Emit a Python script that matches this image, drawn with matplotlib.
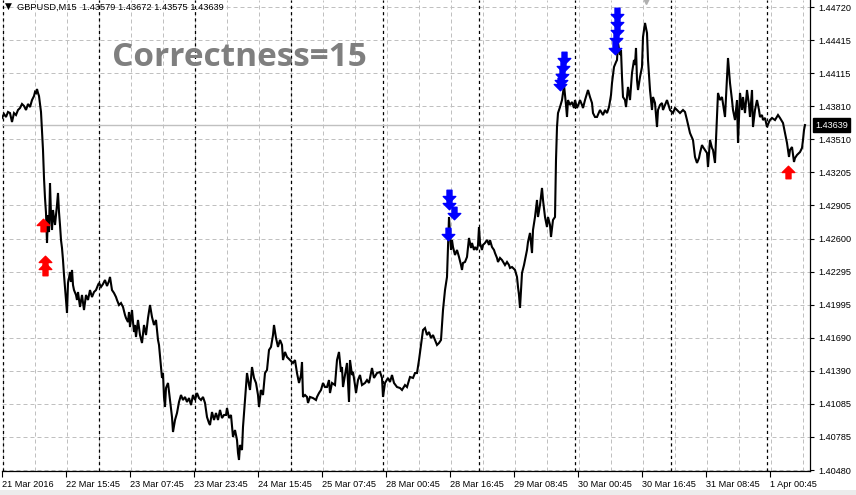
import matplotlib
matplotlib.use("Agg")
import matplotlib.pyplot as plt
import matplotlib.transforms as mtransforms
from matplotlib.path import Path
import numpy as np

# ---------------- data ----------------
symbol_header = "GBPUSD,M15  1.43579 1.43672 1.43575 1.43639"
last_price = 1.43639
title_text = "Correctness=15"

bars = [0, 2, 4, 6, 8, 10, 12, 14, 16, 18, 20, 22, 24, 26, 28, 30, 32, 33, 34, 35, 36, 37, 38, 39, 40,
        41, 42, 43, 44, 45, 46, 47, 48, 49, 50, 51, 52, 53, 54, 55, 56, 57, 58, 59, 60, 61, 62, 63, 64,
        65, 66, 67, 68, 69, 70, 71, 72, 74, 75, 76, 78, 80, 82, 84, 86, 88, 90, 92, 94, 96, 97, 99, 101,
        103, 105, 107, 108, 110, 112, 114, 115, 117, 119, 121, 123, 124, 126, 127, 128, 129, 130, 131,
        132, 133, 134, 136, 138, 140, 142, 144, 146, 148, 150, 152, 154, 156, 157, 159, 160, 161, 162,
        163, 164, 166, 168, 170, 171, 173, 175, 177, 179, 181, 183, 185, 187, 189, 191, 193, 195, 197,
        199, 201, 203, 205, 207, 208, 210, 212, 214, 216, 218, 220, 222, 224, 225, 227, 229, 231, 233,
        235, 236, 237, 238, 240, 241, 243, 245, 247, 248, 250, 252, 254, 256, 257, 259, 261, 263, 265,
        267, 269, 271, 272, 274, 276, 278, 280, 281, 283, 285, 288, 291, 293, 295, 297, 299, 300, 301,
        303, 305, 306, 308, 311, 314, 315, 317, 319, 321, 323, 325, 327, 328, 330, 333, 335, 337, 339,
        340, 341, 343, 345, 347, 348, 350, 351, 353, 354, 356, 358, 360, 363, 365, 367, 370, 372, 375,
        378, 380, 381, 383, 386, 388, 390, 392, 395, 398, 400, 403, 405, 408, 411, 413, 415, 417, 419,
        421, 423, 425, 427, 429, 431, 433, 435, 437, 439, 441, 442, 443, 445, 446, 447, 449, 450, 451,
        453, 455, 457, 459, 460, 461, 463, 465, 467, 469, 470, 472, 473, 475, 476, 477, 478, 480, 481,
        483, 485, 487, 488, 490, 492, 493, 495, 496, 498, 500, 503, 505, 507, 508, 510, 513, 515, 516,
        517, 518, 519, 520, 522, 523, 525, 526, 528, 530, 531, 533, 535, 536, 538, 540, 541, 543, 545,
        546, 548, 549, 551, 553, 554, 555, 556, 558, 560, 561, 562, 564, 565, 566, 568, 570, 572, 573,
        575, 577, 578, 580, 581, 583, 586, 588, 590, 591, 593, 595, 598, 601, 603, 605, 607, 609, 610,
        612, 614, 615, 616, 618, 619, 620, 621, 623, 624, 626, 628, 630, 632, 633, 634, 635, 636, 638,
        640, 641, 643, 644, 645, 646, 648, 650, 651, 653, 655, 656, 658, 660, 661, 663, 665, 668, 671,
        673, 675, 678, 681, 683, 685, 688, 691, 693, 695, 697, 698, 700, 701, 703, 705, 706, 708, 710,
        711, 713, 715, 716, 718, 720, 722, 723, 725, 726, 727, 728, 730, 731, 733, 735, 736, 738, 740,
        741, 743, 745, 747, 748, 750, 751, 753, 755, 757, 758, 760, 761, 763, 765, 767, 768, 770, 773,
        776, 778, 781, 783, 785, 786, 787, 788, 790, 792, 793, 795, 797, 798, 800, 801, 802, 803]

close = [1.43704, 1.43740, 1.43713, 1.43759, 1.43749, 1.43667, 1.43749, 1.43731, 1.43777, 1.43795,
         1.43832, 1.43814, 1.43777, 1.43832, 1.43804, 1.43868, 1.43905, 1.43942, 1.43933, 1.43969,
         1.43933, 1.43905, 1.43832, 1.43759, 1.43594, 1.43411, 1.43154, 1.42971, 1.42834, 1.42559,
         1.42815, 1.42659, 1.43108, 1.42815, 1.42678, 1.42861, 1.42788, 1.42724, 1.42815, 1.42907,
         1.43017, 1.42843, 1.42724, 1.42586, 1.42513, 1.42403, 1.42266, 1.42156, 1.42037, 1.41918,
         1.42193, 1.42239, 1.42293, 1.42202, 1.42312, 1.42174, 1.42128, 1.42083, 1.42037, 1.42110,
         1.41973, 1.42083, 1.41945, 1.42083, 1.42037, 1.42128, 1.42064, 1.42110, 1.42128, 1.42174,
         1.42193, 1.42156, 1.42183, 1.42220, 1.42165, 1.42211, 1.42248, 1.42128, 1.42101, 1.42064,
         1.42037, 1.41991, 1.42009, 1.41973, 1.41900, 1.41872, 1.41835, 1.41927, 1.41789, 1.41872,
         1.41945, 1.41835, 1.41744, 1.41808, 1.41698, 1.41854, 1.41716, 1.41643, 1.41808, 1.41716,
         1.41872, 1.41991, 1.41881, 1.41808, 1.41854, 1.41671, 1.41625, 1.41423, 1.41323, 1.41368,
         1.41149, 1.41057, 1.41231, 1.41277, 1.41121, 1.40965, 1.40828, 1.40938, 1.41002, 1.41103,
         1.41167, 1.41121, 1.41149, 1.41103, 1.41139, 1.41075, 1.41167, 1.41121, 1.41185, 1.41139,
         1.41121, 1.41149, 1.41094, 1.40965, 1.40910, 1.40892, 1.41011, 1.40938, 1.41002, 1.40938,
         1.41030, 1.40956, 1.40984, 1.40984, 1.41048, 1.40956, 1.40984, 1.40782, 1.40846, 1.40755,
         1.40636, 1.40572, 1.40709, 1.40663, 1.40874, 1.41121, 1.41368, 1.41258, 1.41213, 1.41423,
         1.41323, 1.41277, 1.41167, 1.41057, 1.41213, 1.41167, 1.41368, 1.41396, 1.41579, 1.41607,
         1.41716, 1.41808, 1.41689, 1.41607, 1.41671, 1.41625, 1.41487, 1.41561, 1.41515, 1.41487,
         1.41460, 1.41487, 1.41368, 1.41277, 1.41350, 1.41469, 1.41149, 1.41167, 1.41149, 1.41094,
         1.41149, 1.41139, 1.41121, 1.41149, 1.41185, 1.41213, 1.41277, 1.41240, 1.41240, 1.41304,
         1.41185, 1.41277, 1.41258, 1.41487, 1.41561, 1.41378, 1.41423, 1.41240, 1.41350, 1.41460,
         1.41103, 1.41487, 1.41350, 1.41378, 1.41258, 1.41185, 1.41304, 1.41350, 1.41258, 1.41277,
         1.41304, 1.41277, 1.41414, 1.41323, 1.41368, 1.41378, 1.41323, 1.41149, 1.41277, 1.41323,
         1.41286, 1.41350, 1.41277, 1.41240, 1.41231, 1.41213, 1.41258, 1.41240, 1.41332, 1.41323,
         1.41368, 1.41368, 1.41487, 1.41625, 1.41762, 1.41780, 1.41716, 1.41744, 1.41689, 1.41716,
         1.41671, 1.41625, 1.41643, 1.41671, 1.41945, 1.42037, 1.42128, 1.42248, 1.42522, 1.42797,
         1.42495, 1.42586, 1.42522, 1.42449, 1.42495, 1.42431, 1.42357, 1.42312, 1.42376, 1.42385,
         1.42431, 1.42605, 1.42513, 1.42559, 1.42495, 1.42522, 1.42495, 1.42541, 1.42705, 1.42559,
         1.42495, 1.42541, 1.42559, 1.42586, 1.42541, 1.42586, 1.42522, 1.42495, 1.42467, 1.42422,
         1.42385, 1.42422, 1.42403, 1.42357, 1.42385, 1.42357, 1.42330, 1.42339, 1.42312, 1.42248,
         1.42156, 1.42083, 1.41964, 1.42128, 1.42284, 1.42357, 1.42403, 1.42495, 1.42568, 1.42651,
         1.42467, 1.42678, 1.42797, 1.42953, 1.42797, 1.42907, 1.43063, 1.42953, 1.42797, 1.42705,
         1.42797, 1.42724, 1.42614, 1.42770, 1.42797, 1.43319, 1.43621, 1.43749, 1.43804, 1.43868,
         1.43933, 1.44006, 1.43823, 1.43713, 1.43868, 1.43823, 1.43850, 1.43795, 1.43868, 1.43795,
         1.43841, 1.43868, 1.43823, 1.43795, 1.43868, 1.43960, 1.43896, 1.43841, 1.43749, 1.43713,
         1.43713, 1.43777, 1.43731, 1.43777, 1.43749, 1.43804, 1.43914, 1.44024, 1.44171, 1.44216,
         1.44235, 1.44391, 1.44281, 1.44326, 1.44079, 1.43896, 1.43868, 1.43804, 1.43988, 1.43868,
         1.44116, 1.44235, 1.44189, 1.44345, 1.44052, 1.43960, 1.44079, 1.44171, 1.44445, 1.44574,
         1.44528, 1.44482, 1.44235, 1.43960, 1.43777, 1.43896, 1.43841, 1.43621, 1.43777, 1.43823,
         1.43841, 1.43777, 1.43823, 1.43868, 1.43777, 1.43749, 1.43795, 1.43777, 1.43749, 1.43777,
         1.43759, 1.43685, 1.43566, 1.43502, 1.43347, 1.43292, 1.43337, 1.43383, 1.43456, 1.43438,
         1.43411, 1.43383, 1.43255, 1.43502, 1.43429, 1.43411, 1.43292, 1.43713, 1.43933, 1.43868,
         1.43896, 1.43777, 1.43713, 1.44079, 1.44253, 1.44143, 1.44024, 1.43868, 1.43777, 1.43685,
         1.43868, 1.43475, 1.43933, 1.43777, 1.43896, 1.43749, 1.43960, 1.43823, 1.43713, 1.43960,
         1.43621, 1.43777, 1.43868, 1.43777, 1.43713, 1.43731, 1.43685, 1.43704, 1.43621, 1.43667,
         1.43685, 1.43704, 1.43685, 1.43731, 1.43704, 1.43658, 1.43566, 1.43475, 1.43411, 1.43347,
         1.43411, 1.43438, 1.43301, 1.43337, 1.43365, 1.43383, 1.43392, 1.43429, 1.43502, 1.43594,
         1.43639]

# signal arrows (bar index, price)
buy_bars = [41, 43, 43, 786]
buy_prices = [1.42724, 1.42385, 1.42321, 1.43209]
sell_bars = [447, 447, 452, 446, 562, 561, 560, 559, 558, 615, 615, 615, 614, 613]
sell_prices = [1.42990, 1.42925, 1.42834, 1.42641, 1.44253, 1.44180, 1.44107, 1.44052, 1.44015,
               1.44656, 1.44583, 1.44510, 1.44436, 1.44345]
gray_bars = [644]
gray_prices = [1.44785]

price_ticks = [1.44720, 1.44415, 1.44115, 1.43810, 1.43510, 1.43205, 1.42905, 1.42600,
               1.42295, 1.41995, 1.41690, 1.41390, 1.41085, 1.40785, 1.40480]
date_tick_bars = [0, 64, 128, 192, 256, 320, 384, 448, 512, 576, 640, 704, 768]
date_labels = ["21 Mar 2016", "22 Mar 15:45", "23 Mar 07:45", "23 Mar 23:45", "24 Mar 15:45",
               "25 Mar 07:45", "28 Mar 00:45", "28 Mar 16:45", "29 Mar 08:45", "30 Mar 00:45",
               "30 Mar 16:45", "31 Mar 08:45", "1 Apr 00:45"]
day_separator_bars = [1, 97, 193, 289, 381, 477, 573, 669, 765]

# ---------------- figure ----------------
W, H = 856, 495
fig = plt.figure(figsize=(W / 100, H / 100), dpi=100)
fig.patch.set_facecolor("white")
plt.rcParams['font.family'] = ['Liberation Sans', 'DejaVu Sans']

ax_bottom_px = 471
ax = fig.add_axes([2 / W, (H - ax_bottom_px) / H, 808 / W, ax_bottom_px / H])
ax.set_xlim(0, 808)
ax.set_ylim(1.404709, 1.447843)

# grid
for p in price_ticks:
    ax.axhline(p, color="#c0c0c0", lw=0.72, ls=(0, (4, 3)), zorder=1)
for b in np.arange(1, 808, 32):
    ax.axvline(b, color="#c0c0c0", lw=0.72, ls=(0, (4, 3)), zorder=1)
for b in day_separator_bars:
    ax.axvline(b, color="black", lw=0.9, ls=(0, (2.5, 2.5)), zorder=1.5)

# current price line
ax.axhline(last_price, color="#c0c0c0", lw=1.0, zorder=1.6)

# price line
ax.plot(bars, close, color="black", lw=1.5, zorder=3, solid_joinstyle="miter")

# arrows
up_verts = [(0, 0.5), (0.5, 0.0), (0.2, 0.0), (0.2, -0.5), (-0.2, -0.5), (-0.2, 0.0), (-0.5, 0.0), (0, 0.5)]
up_path = Path(up_verts, [Path.MOVETO] + [Path.LINETO] * 6 + [Path.CLOSEPOLY])
down_path = Path([(x, -y) for x, y in up_verts], [Path.MOVETO] + [Path.LINETO] * 6 + [Path.CLOSEPOLY])
ax.plot(buy_bars, buy_prices, ls="none", marker=up_path, ms=9, color="#ff0000", mec="#ff0000", zorder=4)
ax.plot(sell_bars, sell_prices, ls="none", marker=down_path, ms=9, color="#0000ff", mec="#0000ff", zorder=4)
ax.plot(gray_bars, gray_prices, ls="none", marker="v", ms=6, color="#b0b0b0", zorder=4, clip_on=True)

# axes styling
for s in ["left", "top"]:
    ax.spines[s].set_visible(False)
for s in ["right", "bottom"]:
    ax.spines[s].set_color("black")
    ax.spines[s].set_linewidth(0.9)

ax.yaxis.tick_right()
ax.set_yticks(price_ticks)
ax.set_yticklabels([f"{p:.5f}" for p in price_ticks])
ax.tick_params(axis="y", direction="out", length=3, width=0.8, pad=3, labelsize=6.6, colors="black")
ax.set_xticks(date_tick_bars)
ax.set_xticklabels(date_labels, ha="left")
ax.tick_params(axis="x", direction="out", length=4, width=0.8, pad=2.5, labelsize=6.6, colors="black")
for lab in ax.get_xticklabels():
    lab.set_horizontalalignment("left")

# last price label
trans = mtransforms.blended_transform_factory(ax.transAxes, ax.transData)
ax.text(1.0 + 5 / 808, last_price, f"{last_price:.5f}", transform=trans, ha="left", va="center",
        fontsize=6.6, color="white",
        bbox=dict(boxstyle="square,pad=0.25", fc="black", ec="black"), zorder=10, clip_on=False)

# header
fig.text(5 / W, 1 - 6.5 / H, "\u25bc", fontsize=6.5, color="black", ha="left", va="center",
         family=["DejaVu Sans"])
fig.text(17 / W, 1 - 7 / H, symbol_header, fontsize=6.7, color="black", ha="left", va="center")

# title
fig.text(112 / W, 1 - 66 / H, title_text, fontfamily="Open Sans", fontweight="bold",
         fontsize=24, color="#7f7f7f", ha="left", va="baseline")

# bottom strip
fig.patches.append(plt.Rectangle((0, 0), 1, 5 / H, transform=fig.transFigure,
                                 facecolor="#ececec", edgecolor="none"))

fig.savefig("out.png", dpi=100)
